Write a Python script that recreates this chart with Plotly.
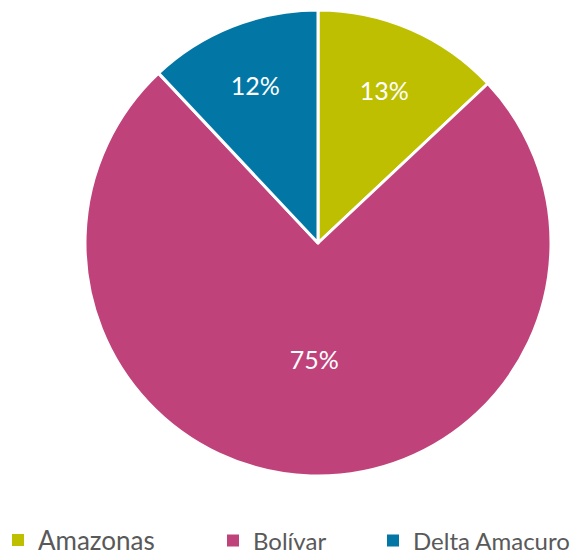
import plotly.graph_objects as go

labels = ["Amazonas", "Bolívar", "Delta Amacuro"]
values = [13, 75, 12]
colors = ["#BDBF00", "#C0427A", "#0277A6"]
legend_sizes = [26, 24, 24]

W, H = 579, 556
OFF = 8  # page body margin of the html page
cx, cy, R = 318 - OFF, 243 - OFF, 233

fig = go.Figure()
fig.add_trace(go.Pie(
    labels=labels, values=values, sort=False, direction="clockwise", rotation=0,
    marker=dict(colors=colors, line=dict(color="white", width=3)),
    textinfo="percent", texttemplate="%{percent:.0%}",
    textposition="inside", insidetextorientation="horizontal",
    textfont=dict(family="Lato", size=25, color="white"),
    showlegend=False, hoverinfo="label+percent",
    domain=dict(x=[(cx - R) / W, (cx + R) / W], y=[1 - (cy + R) / H, 1 - (cy - R) / H]),
))

legend_sym_x = [18, 233, 393]
legend_y = [540, 541, 541]
legend_names = ["legend", "legend2", "legend3"]
for i, (lab, col) in enumerate(zip(labels, colors)):
    fig.add_trace(go.Scatter(
        x=[None], y=[None], mode="markers", name=lab,
        marker=dict(symbol="square", size=14, color=col),
        legend=legend_names[i], showlegend=True,
    ))

layout_legends = {}
for i, ln in enumerate(legend_names):
    pos = legend_sym_x[i] - OFF - 20
    indent = min(0, pos)
    layout_legends[ln] = dict(
        x=max(0, pos) / W, xanchor="left", indentation=indent,
        y=1 - (legend_y[i] - OFF) / H, yanchor="middle",
        orientation="h", bgcolor="rgba(0,0,0,0)",
        font=dict(family="Lato", size=legend_sizes[i], color="#595959"),
        itemsizing="constant", borderwidth=0,
    )

fig.update_layout(
    width=W, height=H,
    margin=dict(l=0, r=0, t=0, b=0, autoexpand=False),
    paper_bgcolor="white", plot_bgcolor="white",
    xaxis=dict(visible=False), yaxis=dict(visible=False),
    **layout_legends,
)

fig.write_html("out.html")
